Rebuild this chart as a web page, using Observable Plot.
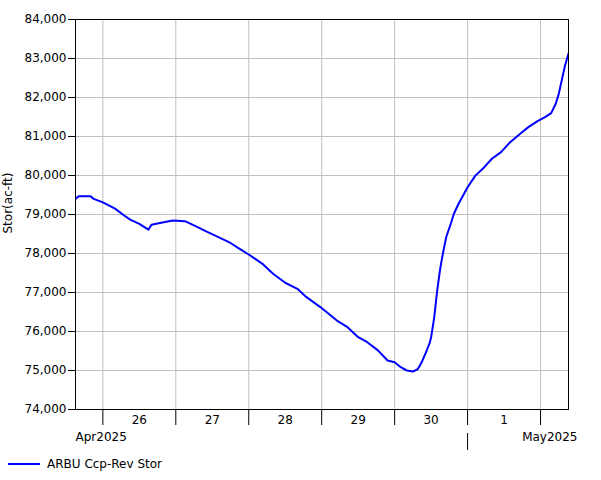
<!DOCTYPE html>
<html><head><meta charset="utf-8">
<script src="https://cdn.jsdelivr.net/npm/d3@7"></script>
<script src="https://cdn.jsdelivr.net/npm/@observablehq/plot@0.6"></script>
<style>
body{margin:0;background:#fff;font-family:"DejaVu Sans",Verdana,sans-serif;}
#legend{height:28px;position:relative;}
</style>
</head><body><div id="chart"></div><div id="legend"></div>
<script>
const seriesName = "ARBU Ccp-Rev Stor";
const yLabel = "Stor(ac-ft)";
const times = [
  "2025-04-25T15:00","2025-04-25T16:00","2025-04-25T20:00","2025-04-25T21:00",
  "2025-04-26T00:00","2025-04-26T04:00","2025-04-26T07:00","2025-04-26T09:00",
  "2025-04-26T12:00","2025-04-26T15:00","2025-04-26T16:00","2025-04-26T20:00",
  "2025-04-26T23:00","2025-04-27T03:00","2025-04-27T06:00","2025-04-27T10:00",
  "2025-04-27T14:00","2025-04-27T18:00","2025-04-27T21:00","2025-04-28T00:00",
  "2025-04-28T04:30","2025-04-28T08:00","2025-04-28T12:00","2025-04-28T16:00",
  "2025-04-28T19:00","2025-04-28T23:40","2025-04-29T05:00","2025-04-29T08:30",
  "2025-04-29T12:00","2025-04-29T15:00","2025-04-29T18:30","2025-04-29T21:40",
  "2025-04-30T00:00","2025-04-30T02:00","2025-04-30T04:00","2025-04-30T06:00",
  "2025-04-30T07:30","2025-04-30T08:00","2025-04-30T09:00","2025-04-30T10:30",
  "2025-04-30T11:30","2025-04-30T12:00","2025-04-30T13:00","2025-04-30T14:00",
  "2025-04-30T15:00","2025-04-30T16:00","2025-04-30T17:00","2025-04-30T18:30",
  "2025-04-30T19:30","2025-04-30T21:00","2025-04-30T22:50","2025-05-01T00:00",
  "2025-05-01T02:30","2025-05-01T05:30","2025-05-01T08:00","2025-05-01T11:00",
  "2025-05-01T14:00","2025-05-01T17:30","2025-05-01T20:00","2025-05-01T23:00",
  "2025-05-02T01:30","2025-05-02T03:30","2025-05-02T05:00","2025-05-02T06:00",
  "2025-05-02T07:00","2025-05-02T08:00","2025-05-02T09:10"
];
const storage = [
  79400,79470,79470,79400,
  79310,79150,78975,78870,
  78760,78610,78735,78800,
  78845,78830,78720,78565,
  78420,78270,78120,77975,
  77735,77480,77250,77095,
  76880,76620,76280,76110,
  75855,75725,75515,75255,
  75210,75085,75000,74975,
  75030,75085,75230,75500,
  75700,75850,76350,77050,
  77620,78050,78430,78770,
  79020,79270,79530,79700,
  79990,80213,80430,80600,
  80855,81085,81240,81395,
  81495,81600,81840,82094,
  82450,82800,83120
];
const xDomain = ["2025-04-25T15:00","2025-05-02T09:12"];
const yTicks = [74000,75000,76000,77000,78000,79000,80000,81000,82000,83000,84000];
const dayTicks = ["2025-04-26T00:00","2025-04-27T00:00","2025-04-28T00:00","2025-04-29T00:00","2025-04-30T00:00","2025-05-01T00:00","2025-05-02T00:00"];
const dayLabelTimes = ["2025-04-26T12:00","2025-04-27T12:00","2025-04-28T12:00","2025-04-29T12:00","2025-04-30T12:00","2025-05-01T12:00"];
const dayLabels = ["26","27","28","29","30","1"];
const monthTicks = ["2025-05-01T00:00"];
const monthLabels = ["Apr2025","May2025"];

const data = times.map((t,i)=>({date:new Date(t), value:storage[i]}));
const dTicks = dayTicks.map(d=>new Date(d));
const dLabels = dayLabelTimes.map((d,i)=>({date:new Date(d), text:dayLabels[i]}));
const domain = xDomain.map(d=>new Date(d));

const chart = Plot.plot({
  width: 601, height: 452,
  marginLeft: 75, marginRight: 33, marginTop: 19, marginBottom: 43,
  style: {fontFamily: '"DejaVu Sans", Verdana, sans-serif', fontSize: "12px", color: "black", background: "white"},
  x: {type: "time", domain},
  y: {domain: [74000, 84000]},
  marks: [
    Plot.gridX(dTicks, {stroke: "#c0c0c0", strokeOpacity: 1}),
    Plot.gridY(yTicks, {stroke: "#c0c0c0", strokeOpacity: 1}),
    Plot.line(data, {x: "date", y: "value", stroke: "#0000ff", strokeWidth: 2, clip: true}),
    Plot.frame({stroke: "black"}),
    Plot.axisY({ticks: yTicks, tickFormat: d3.format(","), tickSize: 7, tickPadding: 2, label: null, fontSize: 12}),
    Plot.text([yLabel], {frameAnchor: "left", dx: -67, dy: 19, rotate: -90, text: d=>d, fontSize: 12}),
    Plot.axisX({ticks: dTicks, tickSize: 16, tickFormat: () => "", label: null}),
    Plot.text(dLabels, {x: "date", text: "text", frameAnchor: "bottom", dy: 14, fontSize: 12}),
    Plot.axisX({ticks: monthTicks.map(d=>new Date(d)), tickSize: 17, tickFormat: () => "", label: null, dy: 24}),
    Plot.text([domain[0]], {x: d=>d, text: () => monthLabels[0], frameAnchor: "bottom", dy: 31, textAnchor: "start", fontSize: 12}),
    Plot.text([domain[1]], {x: d=>d, text: () => monthLabels[1], frameAnchor: "bottom", dy: 31, dx: 9, textAnchor: "end", fontSize: 12})
  ]
});
document.getElementById("chart").appendChild(chart);

document.getElementById("legend").innerHTML =
  `<svg width="601" height="28" style="display:block;font-family:'DejaVu Sans',Verdana,sans-serif;font-size:12px">
     <line x1="8" x2="40" y1="12" y2="12" stroke="#0000ff" stroke-width="2"/>
     <text x="47" y="16" fill="black">${seriesName}</text>
   </svg>`;
</script></body></html>
